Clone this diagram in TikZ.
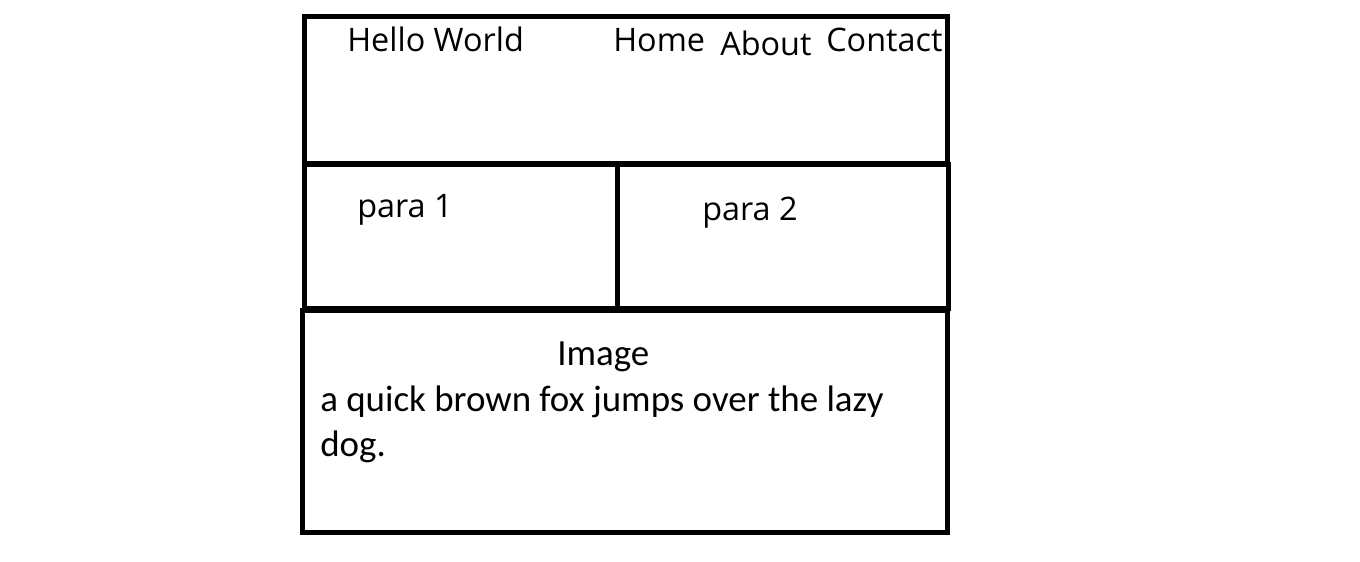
\documentclass[tikz,border=0pt]{standalone}
\usepackage{fontspec}
\setmainfont{Open Sans}
\newfontfamily\bodyfont{Carlito}
\begin{document}
\begin{tikzpicture}[x=0.75pt,y=-0.75pt,
  panel/.style={draw=black,line width=3.75pt,rectangle,inner sep=0pt},
  label/.style={inner sep=0pt,anchor=base west,font=\fontsize{24.3pt}{29pt}\selectfont},
  bodytext/.style={inner sep=0pt,anchor=base west,font=\bodyfont\fontsize{27.7pt}{33.75pt}\selectfont}]
\useasboundingbox (0,0) rectangle (1360,561);
% header, two paragraph panels and the image panel
\node[panel,minimum width=642.5*0.75pt,minimum height=147*0.75pt] (header) at (625.75,90) {};
\node[panel,minimum width=313*0.75pt,minimum height=143.5*0.75pt] (para1box) at (461,236.25) {};
\node[panel,minimum width=331*0.75pt,minimum height=144*0.75pt] (para2box) at (783,236) {};
\node[panel,minimum width=645*0.75pt,minimum height=222.5*0.75pt] (imagebox) at (624.5,421.25) {};
% header texts
\node[label] (title) at (347,51) {Hello World};
\node[label] (home) at (613,51) {Home};
\node[label] (about) at (720,55) {About};
\node[label] (contact) at (826,51) {Contact};
% paragraph labels
\node[label] (para1) at (357,217) {para 1};
\node[label] (para2) at (702,220) {para 2};
% image panel texts
\node[bodytext] (imglabel) at (557,365) {Image};
\node[bodytext] (line1) at (320,411) {a quick brown fox jumps over the lazy};
\node[bodytext] (line2) at (320,456) {dog.};
\end{tikzpicture}
\end{document}
